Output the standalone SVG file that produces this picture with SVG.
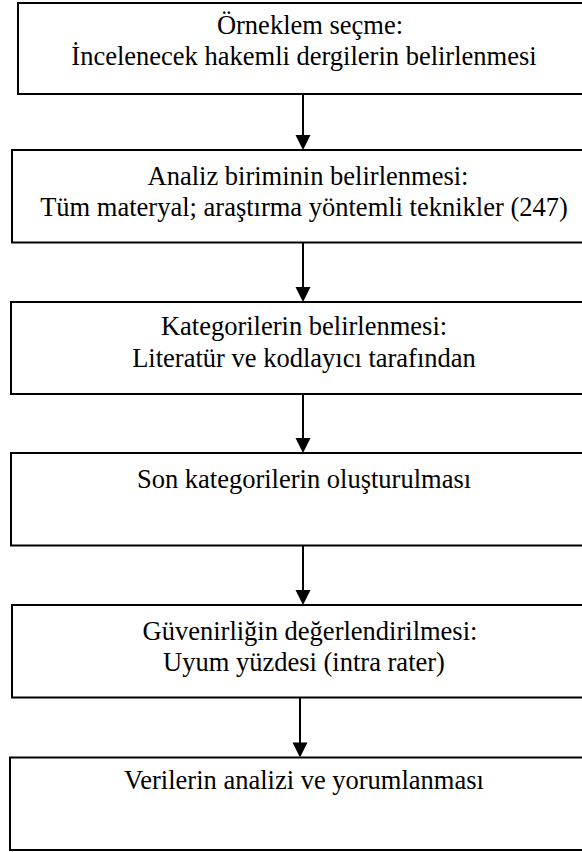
<svg xmlns="http://www.w3.org/2000/svg" width="582" height="852" viewBox="0 0 582 852">
<style>
.box{fill:#fff;stroke:#000;stroke-width:2}
.t{font-family:"Liberation Serif","Times New Roman",serif;font-size:26.5px;fill:#000;text-anchor:middle}
.c{stroke:#000;stroke-width:2}
.h{fill:#000}
</style>
<rect width="582" height="852" fill="#fff"/>
<g id="n1"><rect class="box" x="18" y="3" width="600" height="91"/><text class="t" x="310" y="34">Örneklem seçme:</text><text class="t" x="304" y="65">İncelenecek hakemli dergilerin belirlenmesi</text></g>
<g id="n2"><rect class="box" x="12" y="150" width="600" height="92.5"/><text class="t" x="308" y="185">Analiz biriminin belirlenmesi:</text><text class="t" x="304" y="216">Tüm materyal; araştırma yöntemli teknikler (247)</text></g>
<g id="n3"><rect class="box" x="11" y="302" width="600" height="92"/><text class="t" x="304" y="335">Kategorilerin belirlenmesi:</text><text class="t" x="304" y="367">Literatür ve kodlayıcı tarafından</text></g>
<g id="n4"><rect class="box" x="11" y="453" width="600" height="92.5"/><text class="t" x="304" y="488">Son kategorilerin oluşturulması</text></g>
<g id="n5"><rect class="box" x="12" y="605" width="600" height="92.5"/><text class="t" x="310" y="640">Güvenirliğin değerlendirilmesi:</text><text class="t" x="304" y="671">Uyum yüzdesi (intra rater)</text></g>
<g id="n6"><rect class="box" x="10" y="757.5" width="600" height="92.5"/><text class="t" x="304" y="789">Verilerin analizi ve yorumlanması</text></g>
<g id="connectors">
<line class="c" x1="303" y1="94" x2="303" y2="137"/><polygon class="h" points="295.5,135 310.5,135 303,150"/>
<line class="c" x1="303" y1="242.5" x2="303" y2="289"/><polygon class="h" points="295.5,287 310.5,287 303,302"/>
<line class="c" x1="303" y1="394" x2="303" y2="440"/><polygon class="h" points="295.5,438 310.5,438 303,453"/>
<line class="c" x1="303" y1="545.5" x2="303" y2="592"/><polygon class="h" points="295.5,590 310.5,590 303,605"/>
<line class="c" x1="300" y1="697.5" x2="300" y2="744"/><polygon class="h" points="292.5,742.5 307.5,742.5 300,757.5"/>
</g>
</svg>
